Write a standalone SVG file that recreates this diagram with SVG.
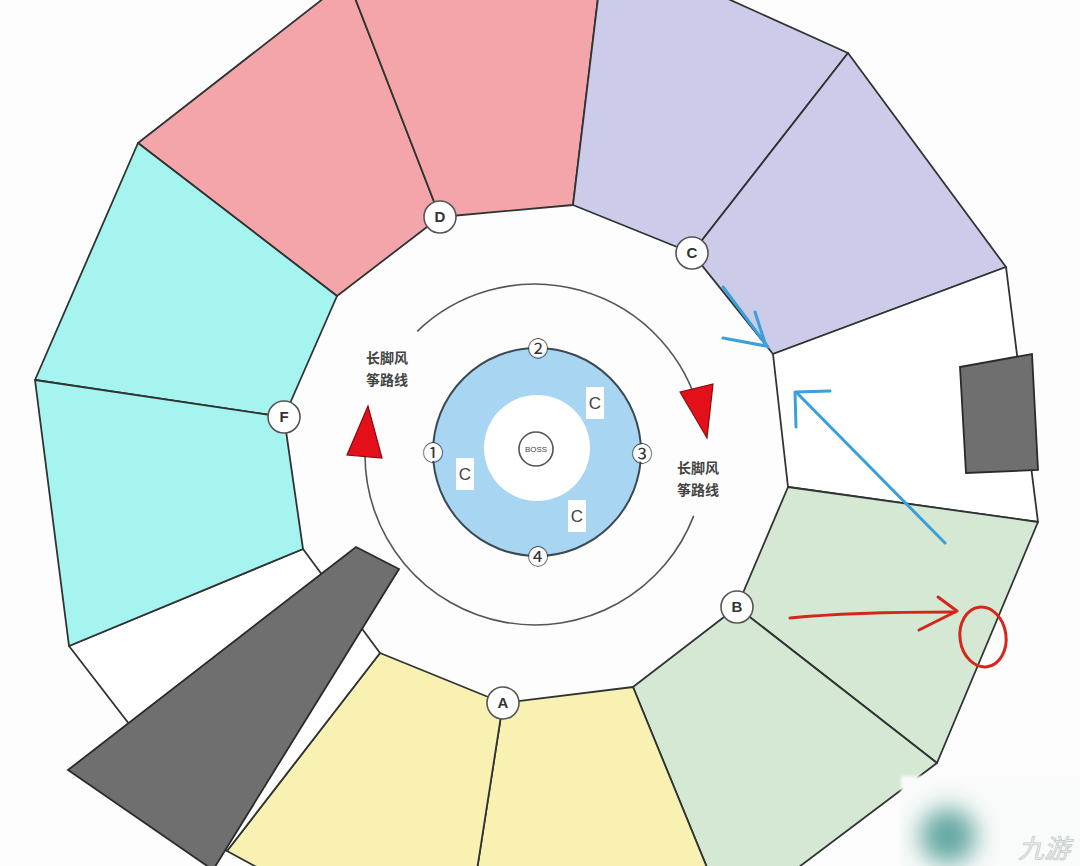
<svg xmlns="http://www.w3.org/2000/svg" width="1080" height="866" viewBox="0 0 1080 866">
<defs>
<style>
.seg{stroke:#2f3433;stroke-width:1.8;stroke-linejoin:round}
.pink{fill:#f4a5aa}
.purple{fill:#cdcbea}
.cyan{fill:#a6f4ef}
.green{fill:#d5e8d3}
.yellow{fill:#f8f1b2}
.white{fill:#ffffff}
.gray{fill:#6f6f6f;stroke:#2a2a2a;stroke-width:1.8}
.mk circle{fill:#fff;stroke:#555;stroke-width:1.6}
.mk text{font-family:"Liberation Sans",Arial,sans-serif;font-size:15px;font-weight:bold;fill:#333;text-anchor:middle}
.num circle{fill:#fff}
.num text{font-family:"Noto Sans CJK SC","DejaVu Sans",sans-serif;font-size:21px;fill:#333;text-anchor:middle}
.cbox rect{fill:#fff}
.cbox text{font-family:"Liberation Sans",Arial,sans-serif;font-size:17px;fill:#444;text-anchor:middle}
.lbl{font-family:"Noto Sans CJK SC","Noto Sans CJK JP",sans-serif;font-size:14px;font-weight:bold;fill:#444;text-anchor:middle}
.arc{fill:none;stroke:#555;stroke-width:1.6}
.tri{fill:#e3101a;stroke:#8a0a10;stroke-width:1.2}
.blue{fill:none;stroke:#3aa0d8;stroke-width:3;stroke-linecap:round;stroke-linejoin:round}
.red{fill:none;stroke:#d6261c;stroke-width:3;stroke-linecap:round;stroke-linejoin:round}
</style>
<filter id="blur" x="-1" y="-1" width="3" height="3"><feGaussianBlur stdDeviation="12"/></filter>
<filter id="soft" x="-0.2" y="-0.2" width="1.4" height="1.4"><feGaussianBlur stdDeviation="1.5"/></filter>
</defs>
<rect width="1080" height="866" fill="#fdfdfd"/>

<g id="segments">
<polygon id="pink-1" class="seg pink" points="138,143 324,-2 355,-2 440,217 337,296"/>
<polygon id="pink-2" class="seg pink" points="355,-2 598,-2 573,205 440,217"/>
<polygon id="purple-1" class="seg purple" points="598,-2 726,-2 848,53 692,253 573,205"/>
<polygon id="purple-2" class="seg purple" points="848,53 1006,267 773,354 692,253"/>
<polygon id="white-right" class="seg white" points="1006,267 1038,522 788,487 773,354"/>
<polygon id="green-1" class="seg green" points="788,487 1038,522 937,763 737,607"/>
<polygon id="green-2" class="seg green" points="737,607 937,763 795,870 708,870 633,687"/>
<polygon id="yellow-1" class="seg yellow" points="633,687 708,870 477,870 503,703"/>
<polygon id="yellow-2" class="seg yellow" points="503,703 477,870 262,870 227,851 380,653"/>
<polygon id="white-left" class="seg white" points="303,549 380,653 227,851 69,646"/>
<polygon id="cyan-1" class="seg cyan" points="138,143 337,296 284,417 35,380"/>
<polygon id="cyan-2" class="seg cyan" points="35,380 284,417 303,549 69,646"/>
<polygon id="gray-wedge" class="gray" points="356,547 399,569 213,870 68,770"/>
<polygon id="gray-rect" class="gray" points="960,367 1032,354 1038,470 966,473"/>
</g>

<g id="connectors">
<path class="arc" d="M 417.2,331.3 A 170 170 0 0 1 699.2,411"/>
<path class="arc" d="M 693.7,515.9 A 170 170 0 0 1 365,455"/>
<polygon class="tri" points="368,406 347,455 382,458"/>
<polygon class="tri" points="680,392 713,384 707,438"/>
<g id="blue-arrows">
<path class="blue" d="M723,287 L768,347"/>
<path class="blue" d="M755,312 L766,346 L723,338"/>
<path class="blue" d="M945,543 L797,393"/>
<path class="blue" d="M830,391 L795,392 L796,427"/>
</g>
<g id="red-mark">
<path class="red" d="M790,618 C830,614 900,612 955,612"/>
<path class="red" d="M938,597 L957,611 L919,630"/>
<ellipse class="red" cx="983" cy="637" rx="23" ry="30" transform="rotate(-8 983 637)"/>
</g>
</g>

<g id="ring">
<circle cx="537" cy="452" r="104" fill="#a8d5f2" stroke="#3b4a52" stroke-width="2"/>
<circle cx="537" cy="448" r="53" fill="#ffffff"/>
<g id="boss"><circle cx="536" cy="449" r="17" fill="#fff" stroke="#555" stroke-width="1.6"/>
<text x="536" y="452" font-family="Liberation Sans,Arial,sans-serif" font-size="8" fill="#444" text-anchor="middle">BOSS</text></g>
<g id="c1" class="cbox"><rect x="586" y="387" width="18" height="32"/><text x="595" y="409">C</text></g>
<g id="c2" class="cbox"><rect x="456" y="458" width="18" height="32"/><text x="465" y="480">C</text></g>
<g id="c3" class="cbox"><rect x="568" y="500" width="18" height="32"/><text x="577" y="522">C</text></g>
<g id="n1" class="num"><circle cx="433" cy="452" r="9"/><text x="433" y="459.5">①</text></g>
<g id="n2" class="num"><circle cx="538" cy="348" r="9"/><text x="538" y="355.5">②</text></g>
<g id="n3" class="num"><circle cx="642" cy="453" r="9"/><text x="642" y="460.5">③</text></g>
<g id="n4" class="num"><circle cx="538" cy="556" r="9"/><text x="538" y="563.5">④</text></g>
</g>

<g id="labels">
<text class="lbl" x="387" y="363">长脚风</text>
<text class="lbl" x="387" y="385">筝路线</text>
<text class="lbl" x="698" y="473">长脚风</text>
<text class="lbl" x="698" y="495">筝路线</text>
</g>

<g id="markers">
<g id="D" class="mk"><circle cx="440" cy="217" r="16"/><text x="440" y="222">D</text></g>
<g id="C" class="mk"><circle cx="692" cy="253" r="16"/><text x="692" y="258">C</text></g>
<g id="F" class="mk"><circle cx="284" cy="417" r="16"/><text x="284" y="422">F</text></g>
<g id="B" class="mk"><circle cx="737" cy="607" r="16"/><text x="737" y="612">B</text></g>
<g id="A" class="mk"><circle cx="503" cy="703" r="16"/><text x="503" y="708">A</text></g>
</g>

<g id="watermark">
<rect x="901" y="776" width="190" height="100" fill="#f9fbfa" filter="url(#soft)"/>
<circle cx="948" cy="836" r="28" fill="#3f938c" opacity="0.8" filter="url(#blur)"/>
<text x="1044" y="858" font-family="Noto Sans CJK SC,sans-serif" font-size="26" font-style="italic" fill="#eef1f1" stroke="#c4cbcb" stroke-width="0.8" text-anchor="middle">九游</text>
</g>
</svg>
